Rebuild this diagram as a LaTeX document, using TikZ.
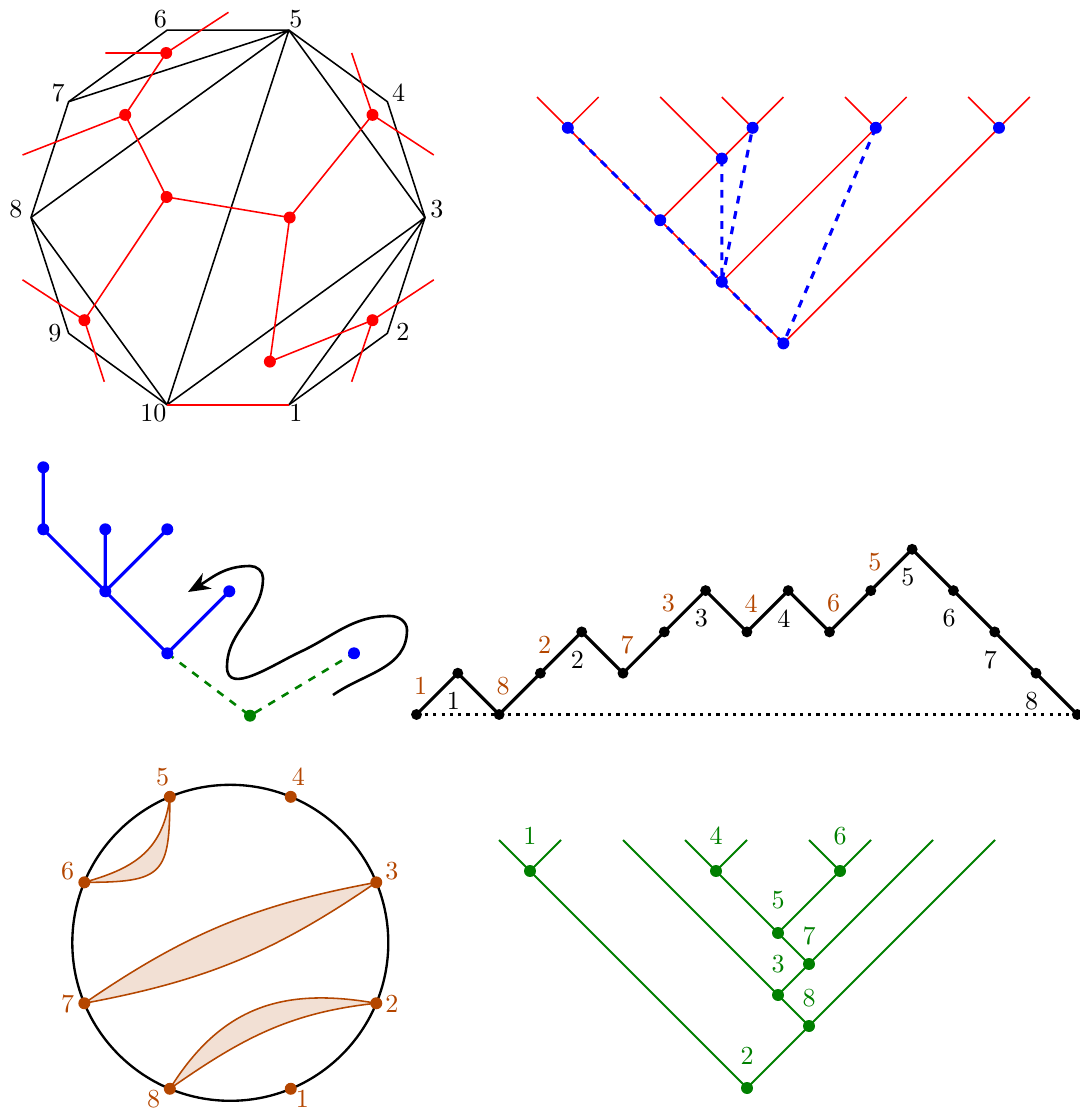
\documentclass[tikz,border=0pt]{standalone}
\usepackage{amsmath,amssymb}
\usepackage{xcolor}
\usepackage{tikz}
\usetikzlibrary{arrows.meta,positioning,calc}
\definecolor{rust}{RGB}{180,70,0}
\colorlet{leaf}{green!50!black}

\begin{document}
\begin{tikzpicture}[
    x=0.135mm, y=0.135mm,
    vdot/.style={circle, fill, inner sep=0pt, minimum size=4.6pt},
    sdot/.style={circle, fill, inner sep=0pt, minimum size=4.2pt},
    num/.style={inner sep=0pt},
    poly/.style={semithick, black},
    dual/.style={semithick, red},
    bdash/.style={very thick, blue, dashed},
    plane/.style={very thick, blue},
    gdash/.style={line width=1pt, leaf, dashed},
    wiggle/.style={line width=1pt, -{Stealth[length=3mm, width=2.4mm]}},
    dyck/.style={very thick},
    uplab/.style={num, text=rust},
    chord/.style={semithick, draw=rust, fill=rust!17},
    gtree/.style={thick, leaf},
    glab/.style={num, text=leaf}
]
\useasboundingbox (0,0) rectangle (1080,-1110);

\coordinate (o1) at (228,-217.5);
\foreach \k/\dx/\dy in {1/7/-8, 2/15.5/1, 3/12/8, 4/11.3/9, 5/7/11, 6/-6.7/11,
    7/-10.6/8.7, 8/-15/8, 9/-13.7/0, 10/-13.7/-8}{
  \coordinate (v\k) at ($(o1)+({(\k-3)*36}:197)$);
  \node[num] (n\k) at ($(v\k)+(\dx,\dy)$) {\k};
}
\foreach \n/\x/\y in {t1/166.2/53, t2/125.2/114.9, t3/166.6/197, t4/84.4/320.2,
    t5/289.7/217.5, t6/372.5/114.9, t7/269.9/361.6, t8/372.5/320.2}
  \coordinate (\n) at (\x,-\y);
\coordinate (s1) at (105.3,-53);
\coordinate (s2) at (228.5,-12.3);
\coordinate (s3) at (22.5,-155);
\coordinate (s4) at (22.5,-279.8);
\coordinate (s5) at (104.3,-381.8);
\coordinate (s6) at (351.7,-53);
\coordinate (s7) at (433.8,-155);
\coordinate (s8) at (433.8,-279.8);
\coordinate (s9) at (351.7,-381.8);

\draw[poly] (v1) -- (v2) -- (v3) -- (v4) -- (v5) -- (v6) -- (v7) -- (v8) -- (v9) -- (v10);
\draw[poly] (v5) -- (v7) (v5) -- (v8) (v5) -- (v10) (v5) -- (v3) (v3) -- (v10) (v3) -- (v1) (v8) -- (v10);
\draw[dual] (v10) -- (v1);
\draw[dual] (t1) -- (t2) -- (t3) -- (t4) (t3) -- (t5) -- (t6) (t5) -- (t7) -- (t8);
\draw[dual] (s1) -- (t1) -- (s2) (s3) -- (t2) (s4) -- (t4) -- (s5)
    (s6) -- (t6) -- (s7) (s8) -- (t8) -- (s9);
\foreach \n in {t1,t2,t3,t4,t5,t6,t7,t8}
  \node[vdot, red] (\n dot) at (\n) {};

\foreach \k in {0,...,8}
  \coordinate (l\k) at ({537+61.6*\k},-97);
\coordinate (bA) at (567.8,-127.8);
\coordinate (bB) at (752.6,-127.8);
\coordinate (bC) at (721.8,-158.6);
\coordinate (bD) at (660.2,-220.2);
\coordinate (bE) at (875.8,-127.8);
\coordinate (bF) at (721.8,-281.8);
\coordinate (bG) at (999,-127.8);
\coordinate (bR) at (783.4,-343.4);
\draw[dual] (l0) -- (bA) -- (l1) (l3) -- (bB) -- (l4) (l2) -- (bC) -- (bB)
    (bA) -- (bD) -- (bC) (bD) -- (bF) -- (bE) (l5) -- (bE) -- (l6)
    (bF) -- (bR) -- (bG) (l7) -- (bG) -- (l8);
\draw[bdash] (bA) -- (bD) -- (bF) -- (bR) (bC) -- (bF) -- (bB) (bE) -- (bR);
\foreach \n in {bA,bB,bC,bD,bE,bF,bG,bR}
  \node[vdot, blue] (\n dot) at (\n) {};

\foreach \n/\x/\y in {a1/43.3/467.3, a2/43.3/529.3, a3/105.3/529.3, a4/167.3/529.3,
    a5/105.3/591.3, a6/229.3/591.3, a7/167.3/653.3, a8/354/653.3}
  \coordinate (\n) at (\x,-\y);
\coordinate (c1) at (250,-715.7);
\draw[plane] (a1) -- (a2) -- (a5) -- (a7) -- (a6) (a3) -- (a5) -- (a4);
\draw[gdash] (a7) -- (c1) -- (a8);
\foreach \n in {a1,a2,a3,a4,a5,a6,a7,a8}
  \node[vdot, blue] (\n dot) at (\n) {};
\node[vdot, leaf] (c1dot) at (c1) {};
\draw[wiggle] (333,-695) to[out=35, in=-90] (407,-630) to[out=90, in=0] (390,-616)
    to[out=180, in=25] (300,-652) to[out=205, in=-90] (227,-667)
    to[out=90, in=-90] (263,-578)
    to[out=90, in=0] (250,-566) to[out=180, in=30] (188,-592);

\foreach \i/\h in {0/0,1/1,2/0,3/1,4/2,5/1,6/2,7/3,8/2,9/3,10/2,11/3,12/4,13/3,14/2,15/1,16/0}
  \coordinate (d\i) at ({416.5+41.3*\i},{-714.5+41.3*\h});
\draw[dotted, line width=1.2pt] (d0) -- (d16);
\draw[dyck] (d0) \foreach \i in {1,...,16}{ -- (d\i)};
\foreach \i in {0,...,16}
  \node[sdot] (d\i dot) at (d\i) {};
\foreach \i/\j/\t in {0/1/1, 2/3/8, 3/4/2, 5/6/7, 6/7/3, 8/9/4, 10/11/6, 11/12/5}
  \node[uplab] (u\i) at ($(d\i)!0.5!(d\j)+(-16.5,8)$) {\t};
\foreach \i/\j/\t in {1/2/1, 4/5/2, 7/8/3, 9/10/4, 12/13/5, 13/14/6, 14/15/7, 15/16/8}
  \node[num] (w\i) at ($(d\i)!0.5!(d\j)+(-25,-7)$) {\t};

\coordinate (o5) at (230.3,-942.8);
\foreach \k in {1,...,8}
  \coordinate (p\k) at ($(o5)+({22.5+(\k-3)*45}:158)$);
\filldraw[chord] (p6) .. controls +(45,13) and +(-7,-57) .. (p5)
    .. controls +(0,-78) and +(79,0) .. (p6) -- cycle;
\filldraw[chord] (p7) to[bend left=12] (p3) to[bend left=12] (p7) -- cycle;
\filldraw[chord] (p8) to[out=58, in=170, looseness=1.1] (p2)
    to[out=186, in=35] (p8) -- cycle;
\draw[line width=0.9pt] (o5) circle (158);
\foreach \k/\dx/\dy in {1/11.6/-10, 2/15.7/-0.7, 3/15.7/11, 4/7.6/20, 5/-7.3/20,
    6/-16.7/11, 7/-16.7/-0.7, 8/-16.3/-10}{
  \node[vdot, rust] (p\k dot) at (p\k) {};
  \node[uplab] (m\k) at ($(p\k)+(\dx,\dy)$) {\k};
}

\foreach \k in {0,...,8}
  \coordinate (h\k) at ({499+62*\k},-840);
\coordinate (g1) at (530,-871);
\coordinate (g4) at (716,-871);
\coordinate (g6) at (840,-871);
\coordinate (g5) at (778,-933);
\coordinate (g7) at (809,-964);
\coordinate (g3) at (778,-995);
\coordinate (g8) at (809,-1026);
\coordinate (g2) at (747,-1088);
\draw[gtree] (h0) -- (g1) -- (h1) (g1) -- (g2) -- (g8) -- (h8) (g8) -- (g3) -- (h2)
    (g3) -- (g7) -- (h7) (g7) -- (g5) -- (g4) -- (h3) (g4) -- (h4)
    (g5) -- (g6) -- (h5) (g6) -- (h6);
\foreach \n/\d in {1/35, 4/35, 6/35, 5/33, 7/28, 3/31, 8/28, 2/32}{
  \node[vdot, leaf] (g\n dot) at (g\n) {};
  \node[glab] (q\n) at ($(g\n)+(0,\d)$) {\n};
}
\end{tikzpicture}
\end{document}
